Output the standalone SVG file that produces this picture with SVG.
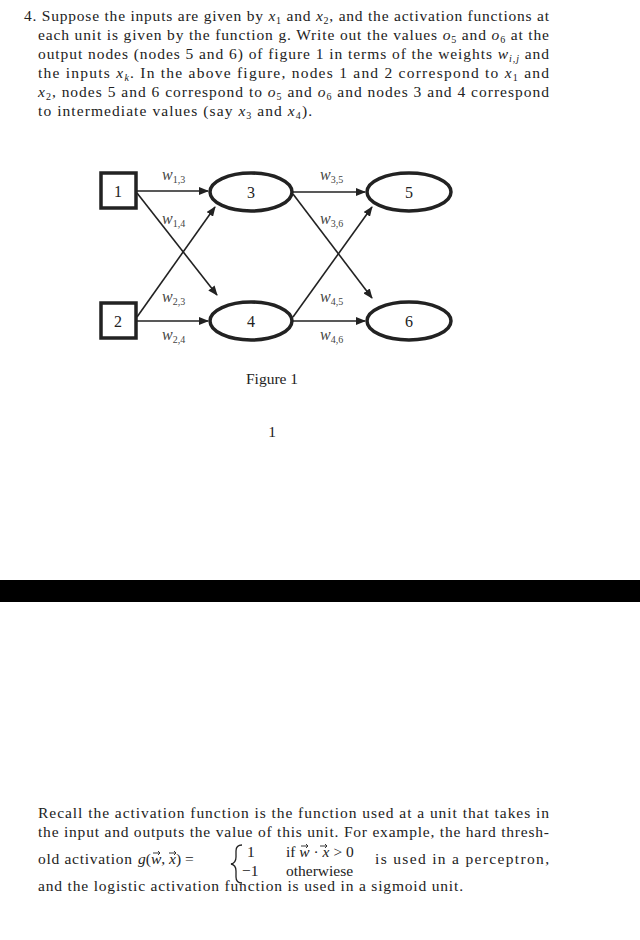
<svg xmlns="http://www.w3.org/2000/svg" width="640" height="940" viewBox="0 0 640 940">
<style>
text{font-family:"Liberation Serif","DejaVu Serif",serif;font-size:15.5px;fill:#222}
.m{font-style:italic}
.n{font-size:16px}
.w{font-size:16px;fill:#444;font-style:italic}
.s{font-size:10px;font-style:normal}
.node{fill:#fff;stroke:#222;stroke-width:3.5}
.e{stroke:#222;stroke-width:1.6;fill:none;marker-end:url(#a)}
.vec{fill:none;stroke:#222;stroke-width:0.9}
</style>
<defs><marker id="a" markerWidth="10" markerHeight="8" refX="9" refY="4" orient="auto" markerUnits="userSpaceOnUse"><path d="M0,0 L10,4 L0,8 Z" fill="#222"/></marker>
<path id="va" d="M0,0 H7 M5,-2 L7,0 L5,2"/></defs>
<rect width="640" height="940" fill="#fff"/>
<text x="24" y="21" textLength="525" lengthAdjust="spacing">4.  Suppose the inputs are given by <tspan class="m">x</tspan><tspan font-size="10" dy="3">1</tspan><tspan dy="-3"> and </tspan><tspan class="m">x</tspan><tspan font-size="10" dy="3">2</tspan><tspan dy="-3">, and the activation functions at</tspan></text>
<text x="38" y="40" textLength="511" lengthAdjust="spacing">each unit is given by the function g.  Write out the values <tspan class="m">o</tspan><tspan font-size="10" dy="3">5</tspan><tspan dy="-3"> and </tspan><tspan class="m">o</tspan><tspan font-size="10" dy="3">6</tspan><tspan dy="-3"> at the</tspan></text>
<text x="38" y="59" textLength="511" lengthAdjust="spacing">output nodes (nodes 5 and 6) of figure 1 in terms of the weights <tspan class="m">w</tspan><tspan font-size="10" class="m" dy="3">i,j</tspan><tspan dy="-3"> and</tspan></text>
<text x="38" y="78" textLength="511" lengthAdjust="spacing">the inputs <tspan class="m">x</tspan><tspan font-size="10" class="m" dy="3">k</tspan><tspan dy="-3">.  In the above figure, nodes 1 and 2 correspond to </tspan><tspan class="m">x</tspan><tspan font-size="10" dy="3">1</tspan><tspan dy="-3"> and</tspan></text>
<text x="38" y="97" textLength="511" lengthAdjust="spacing"><tspan class="m">x</tspan><tspan font-size="10" dy="3">2</tspan><tspan dy="-3">, nodes 5 and 6 correspond to </tspan><tspan class="m">o</tspan><tspan font-size="10" dy="3">5</tspan><tspan dy="-3"> and </tspan><tspan class="m">o</tspan><tspan font-size="10" dy="3">6</tspan><tspan dy="-3"> and nodes 3 and 4 correspond</tspan></text>
<text x="38" y="116" textLength="274" lengthAdjust="spacing">to intermediate values (say <tspan class="m">x</tspan><tspan font-size="10" dy="3">3</tspan><tspan dy="-3"> and </tspan><tspan class="m">x</tspan><tspan font-size="10" dy="3">4</tspan><tspan dy="-3">).</tspan></text>
<g id="connectors">
<line class="e" x1="137" y1="191" x2="208" y2="191"/>
<line class="e" x1="137" y1="193" x2="217" y2="295"/>
<line class="e" x1="137" y1="317" x2="215" y2="207"/>
<line class="e" x1="137" y1="321" x2="208" y2="321"/>
<line class="e" x1="293" y1="192" x2="365" y2="192"/>
<line class="e" x1="293" y1="194" x2="372" y2="298"/>
<line class="e" x1="293" y1="317" x2="372" y2="207"/>
<line class="e" x1="293" y1="321" x2="365" y2="321"/>
<text class="w" x="162" y="180">w<tspan class="s" dy="3">1,3</tspan></text>
<text class="w" x="162" y="224">w<tspan class="s" dy="3">1,4</tspan></text>
<text class="w" x="162" y="302">w<tspan class="s" dy="3">2,3</tspan></text>
<text class="w" x="162" y="340">w<tspan class="s" dy="3">2,4</tspan></text>
<text class="w" x="320" y="180">w<tspan class="s" dy="3">3,5</tspan></text>
<text class="w" x="320" y="224">w<tspan class="s" dy="3">3,6</tspan></text>
<text class="w" x="320" y="302">w<tspan class="s" dy="3">4,5</tspan></text>
<text class="w" x="320" y="340">w<tspan class="s" dy="3">4,6</tspan></text>
</g>
<g id="n1"><rect class="node" x="101" y="173" width="35" height="35"/><text class="n" x="118" y="197" text-anchor="middle">1</text></g>
<g id="n2"><rect class="node" x="101" y="303" width="35" height="35"/><text class="n" x="118" y="327" text-anchor="middle">2</text></g>
<g id="n3"><ellipse class="node" cx="251" cy="192" rx="41" ry="19"/><text class="n" x="251" y="198" text-anchor="middle">3</text></g>
<g id="n4"><ellipse class="node" cx="251" cy="321" rx="41" ry="19"/><text class="n" x="251" y="327" text-anchor="middle">4</text></g>
<g id="n5"><ellipse class="node" cx="409" cy="192" rx="42" ry="19"/><text class="n" x="409" y="198" text-anchor="middle">5</text></g>
<g id="n6"><ellipse class="node" cx="409" cy="321" rx="42" ry="19"/><text class="n" x="409" y="327" text-anchor="middle">6</text></g>
<text x="272" y="384" text-anchor="middle">Figure 1</text>
<text x="272" y="437" text-anchor="middle">1</text>
<rect x="0" y="580" width="640" height="22" fill="#000"/>
<text x="38" y="818" textLength="511" lengthAdjust="spacing">Recall the activation function is the function used at a unit that takes in</text>
<text x="38" y="837" textLength="511" lengthAdjust="spacing">the input and outputs the value of this unit.  For example, the hard thresh-</text>
<text x="38" y="864" textLength="94" lengthAdjust="spacing">old activation</text>
<text x="138" y="864"><tspan class="m">g</tspan>(<tspan class="m">w</tspan>, <tspan class="m">x</tspan>) =</text>
<use href="#va" class="vec" x="153" y="853"/>
<use href="#va" class="vec" x="169" y="853"/>
<path d="M242,845 Q236,845 236,851 L236,857 Q236,863 231,864 Q236,865 236,871 L236,877 Q236,883 242,883" fill="none" stroke="#222" stroke-width="1.3"/>
<text x="247" y="857">1</text>
<text x="242" y="876">−1</text>
<text x="286" y="857">if <tspan class="m">w</tspan> · <tspan class="m">x</tspan> &gt; 0</text>
<use href="#va" class="vec" x="301" y="846"/>
<use href="#va" class="vec" x="320" y="846"/>
<text x="286" y="876">otherwiese</text>
<text x="375" y="864" textLength="174" lengthAdjust="spacing">is used in a perceptron,</text>
<text x="38" y="891" textLength="425" lengthAdjust="spacing">and the logistic activation function is used in a sigmoid unit.</text>
</svg>
